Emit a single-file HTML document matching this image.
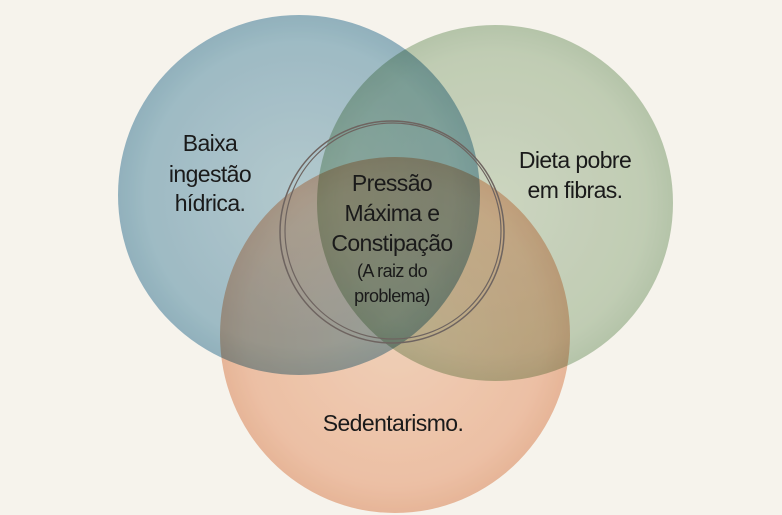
<!DOCTYPE html>
<html><head><meta charset="utf-8"><style>
html,body{margin:0;padding:0;background:#f6f3ec;}
svg{display:block}
text{font-family:"Liberation Sans",sans-serif;fill:#1a1a1a;text-anchor:middle;letter-spacing:-0.6px}
</style></head><body>
<svg width="782" height="515" viewBox="0 0 782 515" xmlns="http://www.w3.org/2000/svg">
<defs>
<radialGradient id="gb" cx="0.5" cy="0.5" r="0.5"><stop offset="0" stop-color="#a8c8d6"/><stop offset="0.85" stop-color="#8db5c9"/><stop offset="1" stop-color="#7ca8bf"/></radialGradient>
<radialGradient id="gg" cx="0.5" cy="0.5" r="0.5"><stop offset="0" stop-color="#c2d3bb"/><stop offset="0.85" stop-color="#afc5a8"/><stop offset="1" stop-color="#9fb998"/></radialGradient>
<radialGradient id="go" cx="0.5" cy="0.5" r="0.5"><stop offset="0" stop-color="#f6cdb3"/><stop offset="0.85" stop-color="#f2b797"/><stop offset="1" stop-color="#eaa886"/></radialGradient>
</defs>
<rect width="782" height="515" fill="#f6f3ec"/>
<ellipse cx="299" cy="195" rx="181" ry="180" fill="url(#gb)" opacity="0.8" style="mix-blend-mode:multiply"/>
<ellipse cx="495" cy="203" rx="178" ry="178" fill="url(#gg)" opacity="0.7" style="mix-blend-mode:multiply"/>
<ellipse cx="395" cy="335" rx="175" ry="178" fill="url(#go)" opacity="0.75" style="mix-blend-mode:multiply"/>
<ellipse cx="392" cy="232" rx="112" ry="111" fill="none" stroke="#6e6460" stroke-width="1.5"/>
<ellipse cx="393" cy="231" rx="108" ry="108" fill="none" stroke="#6e6460" stroke-width="1.2"/>
<g font-size="23">
<text x="210" y="151">Baixa</text>
<text x="210" y="182">ingestão</text>
<text x="210" y="211">hídrica.</text>
<text x="575" y="168">Dieta pobre</text>
<text x="575" y="198">em fibras.</text>
<text x="392" y="191">Pressão</text>
<text x="392" y="221">Máxima e</text>
<text x="392" y="251">Constipação</text>
<text x="393" y="431">Sedentarismo.</text>
</g>
<g font-size="18">
<text x="392" y="277">(A raiz do</text>
<text x="392" y="302">problema)</text>
</g>
</svg>
</body></html>
